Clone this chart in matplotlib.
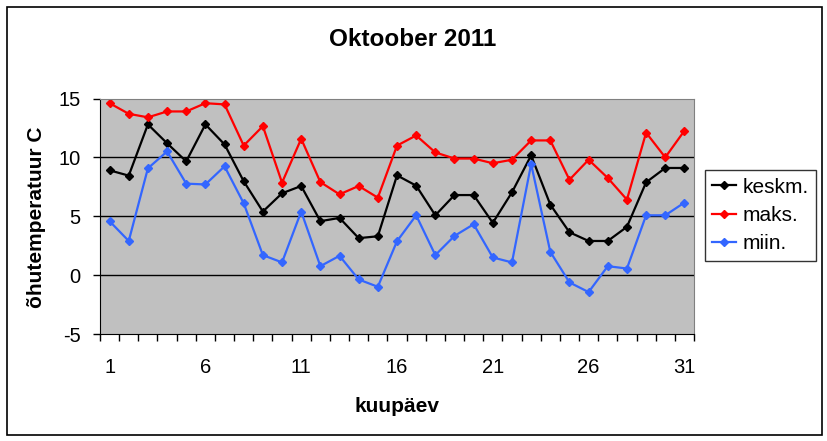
import numpy as np
import matplotlib
matplotlib.use("Agg")
from matplotlib import pyplot as plt
from matplotlib.patches import Rectangle

plt.rcParams['font.family'] = ['Liberation Sans', 'DejaVu Sans']
plt.rcParams['axes.unicode_minus'] = False

days = list(range(1, 32))
keskm = [8.9, 8.45, 12.8, 11.2, 9.66, 12.8, 11.1, 7.97, 5.4, 6.95,
         7.57, 4.58, 4.86, 3.14, 3.3, 8.47, 7.6, 5.08, 6.8, 6.8,
         4.44, 7.03, 10.17, 5.99, 3.64, 2.9, 2.9, 4.1, 7.88, 9.1, 9.1]
maks = [14.6, 13.7, 13.4, 13.9, 13.9, 14.6, 14.5, 11.0, 12.65, 7.85,
        11.58, 7.9, 6.86, 7.57, 6.58, 11.0, 11.86, 10.42, 9.9, 9.9,
        9.5, 9.8, 11.44, 11.44, 8.1, 9.8, 8.25, 6.41, 12.1, 10.0, 12.26]
miin = [4.58, 2.9, 9.07, 10.5, 7.77, 7.7, 9.24, 6.1, 1.7, 1.08,
        5.4, 0.76, 1.64, -0.37, -0.99, 2.88, 5.08, 1.7, 3.33, 4.32,
        1.5, 1.08, 9.43, 1.98, -0.62, -1.44, 0.76, 0.56, 5.08, 5.08, 6.16]
series_names = ['keskm.', 'maks.', 'miin.']
day_labels = [1, 6, 11, 16, 21, 26, 31]

W, H = 828, 441
fig = plt.figure(figsize=(W / 100, H / 100), dpi=100)
fig.patch.set_facecolor('white')
fig.patches.append(Rectangle((7 / W, 6 / H), 815 / W, 428 / H, transform=fig.transFigure,
                             fill=False, edgecolor='black', linewidth=1.2))

ax = fig.add_axes([100 / W, 1 - 334 / H, 594 / W, 235.5 / H])
ax.set_facecolor('#C0C0C0')

colors = ['black', '#FF0000', '#3366FF']
for vals, name, c in zip([keskm, maks, miin], series_names, colors):
    ax.plot(days, vals, color=c, lw=1.6, marker='D', ms=4, label=name)

ax.set_xlim(0.5, 31.5)
ax.set_ylim(-5, 15)
ax.set_yticks([-5, 0, 5, 10, 15])
ax.set_xticks(np.arange(0.5, 32, 1))
ax.set_xticklabels([])
ax.set_xticks(day_labels, minor=True)
ax.set_xticklabels([str(d) for d in day_labels], minor=True)
ax.tick_params(axis='x', which='major', direction='out', length=5, width=1)
ax.tick_params(axis='x', which='minor', length=0, pad=17, labelsize=14.5)
ax.tick_params(axis='y', direction='out', length=5, width=1, pad=9, labelsize=14.5)
for y in [0, 5, 10]:
    ax.axhline(y, color='black', lw=1, zorder=1)
ax.spines['top'].set_color('#808080')
ax.spines['right'].set_color('#808080')

fig.text(413 / W, 1 - 39 / H, 'Oktoober 2011', ha='center', va='center',
         fontsize=17.5, fontweight='bold')
fig.text(397 / W, 1 - 407 / H, 'kuupäev', ha='center', va='center',
         fontsize=15, fontweight='bold')
fig.text(37 / W, 1 - 217 / H, 'õhutemperatuur C', ha='center', va='center',
         rotation=90, fontsize=15, fontweight='bold')

leg = fig.legend(loc='center left', bbox_to_anchor=(705 / W, 1 - 215.5 / H),
                 fontsize=15, frameon=True, fancybox=False, borderaxespad=0,
                 handlelength=1.15, handletextpad=0.3, labelspacing=0.45,
                 borderpad=0.35)
leg.get_frame().set_edgecolor('black')
leg.get_frame().set_linewidth(1)

fig.savefig('out.png', dpi=100)
